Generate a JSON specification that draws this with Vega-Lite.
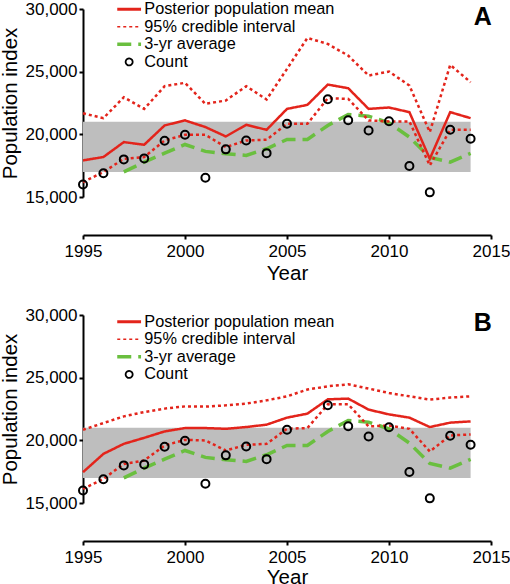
{
  "$schema": "https://vega.github.io/schema/vega-lite/v6.json",
  "padding": {"left": 0, "top": 0, "right": 0, "bottom": 0},
  "spacing": 22,
  "config": {
    "font": "Liberation Sans",
    "view": {"stroke": null},
    "axis": {"grid": false, "labelFlush": false, "domainColor": "#000", "domainWidth": 2, "tickColor": "#000", "tickWidth": 2, "tickSize": 4, "labelFontSize": 17, "labelColor": "#000", "titleFontSize": 20.5, "titleFontWeight": "normal", "titleColor": "#000", "labelFont": "Liberation Sans", "titleFont": "Liberation Sans"},
    "legend": {"orient": "none", "legendX": 38, "labelFontSize": 16.3, "labelFont": "Liberation Sans", "labelColor": "#000", "labelLimit": 400, "symbolSize": 49, "labelOffset": 7, "rowPadding": 0.6},
    "title": {"anchor": "end", "fontSize": 25, "fontWeight": "bold", "color": "#000", "font": "Liberation Sans", "offset": -30, "dx": -18, "baseline": "alphabetic"}
  },
  "datasets": {
    "band": [{"x0": 1995, "x1": 2014, "lo": 17000, "hi": 21000}],
    "a": [
      {"year": 1995, "mean": 17920, "lo": 16190, "hi": 21680, "count": 16000},
      {"year": 1996, "mean": 18190, "lo": 16990, "hi": 21290, "count": 16900},
      {"year": 1997, "mean": 19380, "lo": 18050, "hi": 22960, "avg": 17000, "count": 18000},
      {"year": 1998, "mean": 19170, "lo": 18190, "hi": 22030, "avg": 17790, "count": 18080},
      {"year": 1999, "mean": 20710, "lo": 19510, "hi": 23840, "avg": 18500, "count": 19490},
      {"year": 2000, "mean": 21110, "lo": 19960, "hi": 24110, "avg": 19190, "count": 19960},
      {"year": 2001, "mean": 20580, "lo": 19960, "hi": 22430, "avg": 18640, "count": 16540},
      {"year": 2002, "mean": 19830, "lo": 18980, "hi": 22700, "avg": 18450, "count": 18800},
      {"year": 2003, "mean": 20760, "lo": 19510, "hi": 23840, "avg": 18320, "count": 19510},
      {"year": 2004, "mean": 20360, "lo": 19570, "hi": 22780, "avg": 18850, "count": 18500},
      {"year": 2005, "mean": 22030, "lo": 20840, "hi": 25220, "avg": 19590, "count": 20840},
      {"year": 2006, "mean": 22350, "lo": 20840, "hi": 27690, "avg": 19590},
      {"year": 2007, "mean": 23970, "lo": 22880, "hi": 27210, "avg": 20710, "count": 22800},
      {"year": 2008, "mean": 23680, "lo": 22830, "hi": 26280, "avg": 21580, "count": 21130},
      {"year": 2009, "mean": 22030, "lo": 21110, "hi": 24690, "avg": 21450, "count": 20310},
      {"year": 2010, "mean": 22140, "lo": 21030, "hi": 25010, "avg": 20920, "count": 21050},
      {"year": 2011, "mean": 21770, "lo": 21030, "hi": 23890, "avg": 19780, "count": 17470},
      {"year": 2012, "mean": 18050, "lo": 17520, "hi": 20180, "avg": 18150, "count": 15370},
      {"year": 2013, "mean": 21770, "lo": 20360, "hi": 25540, "avg": 17780, "count": 20360},
      {"year": 2014, "mean": 21290, "lo": 20360, "hi": 24160, "avg": 18480, "count": 19650}
    ],
    "b": [
      {"year": 1995, "mean": 17460, "lo": 16120, "hi": 20840, "count": 16000},
      {"year": 1996, "mean": 18920, "lo": 16920, "hi": 21380, "count": 16900},
      {"year": 1997, "mean": 19720, "lo": 18120, "hi": 21910, "avg": 17000, "count": 18000},
      {"year": 1998, "mean": 20200, "lo": 18390, "hi": 22260, "avg": 17790, "count": 18080},
      {"year": 1999, "mean": 20710, "lo": 19590, "hi": 22530, "avg": 18500, "count": 19490},
      {"year": 2000, "mean": 20980, "lo": 20040, "hi": 22710, "avg": 19190, "count": 19960},
      {"year": 2001, "mean": 20980, "lo": 19990, "hi": 22690, "avg": 18640, "count": 16540},
      {"year": 2002, "mean": 20920, "lo": 19190, "hi": 22790, "avg": 18450, "count": 18800},
      {"year": 2003, "mean": 21060, "lo": 19640, "hi": 22930, "avg": 18320, "count": 19510},
      {"year": 2004, "mean": 21250, "lo": 19720, "hi": 23190, "avg": 18850, "count": 18500},
      {"year": 2005, "mean": 21810, "lo": 20920, "hi": 23510, "avg": 19590, "count": 20840},
      {"year": 2006, "mean": 22130, "lo": 20980, "hi": 24050, "avg": 19590},
      {"year": 2007, "mean": 23270, "lo": 22870, "hi": 24310, "avg": 20710, "count": 22800},
      {"year": 2008, "mean": 23330, "lo": 22870, "hi": 24470, "avg": 21580, "count": 21130},
      {"year": 2009, "mean": 22450, "lo": 21110, "hi": 24130, "avg": 21450, "count": 20310},
      {"year": 2010, "mean": 22070, "lo": 21190, "hi": 23780, "avg": 20920, "count": 21050},
      {"year": 2011, "mean": 21810, "lo": 20920, "hi": 23510, "avg": 19780, "count": 17470},
      {"year": 2012, "mean": 21060, "lo": 19110, "hi": 23250, "avg": 18150, "count": 15370},
      {"year": 2013, "mean": 21410, "lo": 20390, "hi": 23410, "avg": 17780, "count": 20360},
      {"year": 2014, "mean": 21510, "lo": 20470, "hi": 23510, "avg": 18480, "count": 19650}
    ]
  },
  "resolve": {"scale": {"color": "independent", "strokeDash": "independent", "strokeWidth": "independent"}},
  "vconcat": [
    {
      "width": 408, "height": 188,
      "title": "A",
      "layer": [
        {"data": {"name": "band"}, "mark": {"type": "rect", "color": "#bebebe"},
         "encoding": {
           "x": {"field": "x0", "type": "quantitative", "title": "Year", "scale": {"domain": [1995, 2015], "nice": false, "zero": false}, "axis": {"values": [1995, 2000, 2005, 2010, 2015], "format": "d", "offset": 38, "labelPadding": 4, "titlePadding": 4}},
           "x2": {"field": "x1"},
           "y": {"field": "lo", "type": "quantitative", "title": "Population index", "scale": {"domain": [15000, 30000], "nice": false, "zero": false}, "axis": {"values": [15000, 20000, 25000, 30000], "format": ",.0f", "labelPadding": 2, "titlePadding": 5}},
           "y2": {"field": "hi"}}},
        {"data": {"name": "a"}, "mark": {"type": "line"},
         "encoding": {
           "x": {"field": "year", "type": "quantitative", "title": "Year"},
           "y": {"field": "avg", "type": "quantitative", "title": "Population index"},
           "color": {"datum": "3-yr average", "type": "nominal", "scale": {"domain": ["Posterior population mean", "95% credible interval", "3-yr average", "Count"], "range": ["#e3241b", "#e3241b", "#6abf3f", "#000000"]},
             "legend": {"title": null, "legendY": -8, "encode": {"symbols": {"update": {
               "shape": {"signal": "datum.value === 'Count' ? 'circle' : 'M-3.4,0H3.4'"},
               "strokeDash": {"signal": "datum.value === '95% credible interval' ? [3,3] : datum.value === '3-yr average' ? [9,5] : [1,0]"},
               "strokeWidth": {"signal": "datum.value === 'Posterior population mean' ? 3 : datum.value === '95% credible interval' ? 1.6 : datum.value === '3-yr average' ? 3.5 : 1.8"},
               "fill": {"value": "transparent"},
               "size": {"value": 49}}}}}},
           "strokeDash": {"datum": "3-yr average", "type": "nominal", "scale": {"domain": ["Posterior population mean", "95% credible interval", "3-yr average", "Count"], "range": [[1, 0], [3, 3], [14, 7], [1, 0]]}, "legend": null},
           "strokeWidth": {"datum": "3-yr average", "type": "nominal", "scale": {"type": "ordinal", "domain": ["Posterior population mean", "95% credible interval", "3-yr average", "Count"], "range": [3, 1.6, 3.5, 1.8]}, "legend": null}}},
        {"data": {"name": "a"}, "mark": {"type": "line"},
         "encoding": {
           "x": {"field": "year", "type": "quantitative", "title": "Year"},
           "y": {"field": "lo", "type": "quantitative", "title": "Population index"},
           "color": {"datum": "95% credible interval", "type": "nominal"},
           "strokeDash": {"datum": "95% credible interval", "type": "nominal", "legend": null},
           "strokeWidth": {"datum": "95% credible interval", "type": "nominal", "legend": null}}},
        {"data": {"name": "a"}, "mark": {"type": "line"},
         "encoding": {
           "x": {"field": "year", "type": "quantitative", "title": "Year"},
           "y": {"field": "hi", "type": "quantitative", "title": "Population index"},
           "color": {"datum": "95% credible interval", "type": "nominal"},
           "strokeDash": {"datum": "95% credible interval", "type": "nominal", "legend": null},
           "strokeWidth": {"datum": "95% credible interval", "type": "nominal", "legend": null}}},
        {"data": {"name": "a"}, "mark": {"type": "line"},
         "encoding": {
           "x": {"field": "year", "type": "quantitative", "title": "Year"},
           "y": {"field": "mean", "type": "quantitative", "title": "Population index"},
           "color": {"datum": "Posterior population mean", "type": "nominal"},
           "strokeDash": {"datum": "Posterior population mean", "type": "nominal", "legend": null},
           "strokeWidth": {"datum": "Posterior population mean", "type": "nominal", "legend": null}}},
        {"data": {"name": "a"}, "mark": {"type": "point", "shape": "circle", "filled": false, "size": 64, "strokeWidth": 2, "opacity": 1},
         "encoding": {
           "x": {"field": "year", "type": "quantitative", "title": "Year"},
           "y": {"field": "count", "type": "quantitative", "title": "Population index"},
           "color": {"datum": "Count", "type": "nominal"}}}
      ]
    },
    {
      "width": 408, "height": 188,
      "title": "B",
      "layer": [
        {"data": {"name": "band"}, "mark": {"type": "rect", "color": "#bebebe"},
         "encoding": {
           "x": {"field": "x0", "type": "quantitative", "title": "Year", "scale": {"domain": [1995, 2015], "nice": false, "zero": false}, "axis": {"values": [1995, 2000, 2005, 2010, 2015], "format": "d", "offset": 38, "labelPadding": 4, "titlePadding": 2}},
           "x2": {"field": "x1"},
           "y": {"field": "lo", "type": "quantitative", "title": "Population index", "scale": {"domain": [15000, 30000], "nice": false, "zero": false}, "axis": {"values": [15000, 20000, 25000, 30000], "format": ",.0f", "labelPadding": 2, "titlePadding": 5}},
           "y2": {"field": "hi"}}},
        {"data": {"name": "b"}, "mark": {"type": "line"},
         "encoding": {
           "x": {"field": "year", "type": "quantitative", "title": "Year"},
           "y": {"field": "avg", "type": "quantitative", "title": "Population index"},
           "color": {"datum": "3-yr average", "type": "nominal", "scale": {"domain": ["Posterior population mean", "95% credible interval", "3-yr average", "Count"], "range": ["#e3241b", "#e3241b", "#6abf3f", "#000000"]},
             "legend": {"title": null, "legendY": -1.5, "encode": {"symbols": {"update": {
               "shape": {"signal": "datum.value === 'Count' ? 'circle' : 'M-3.4,0H3.4'"},
               "strokeDash": {"signal": "datum.value === '95% credible interval' ? [3,3] : datum.value === '3-yr average' ? [9,5] : [1,0]"},
               "strokeWidth": {"signal": "datum.value === 'Posterior population mean' ? 3 : datum.value === '95% credible interval' ? 1.6 : datum.value === '3-yr average' ? 3.5 : 1.8"},
               "fill": {"value": "transparent"},
               "size": {"value": 49}}}}}},
           "strokeDash": {"datum": "3-yr average", "type": "nominal", "scale": {"domain": ["Posterior population mean", "95% credible interval", "3-yr average", "Count"], "range": [[1, 0], [3, 3], [14, 7], [1, 0]]}, "legend": null},
           "strokeWidth": {"datum": "3-yr average", "type": "nominal", "scale": {"type": "ordinal", "domain": ["Posterior population mean", "95% credible interval", "3-yr average", "Count"], "range": [3, 1.6, 3.5, 1.8]}, "legend": null}}},
        {"data": {"name": "b"}, "mark": {"type": "line"},
         "encoding": {
           "x": {"field": "year", "type": "quantitative", "title": "Year"},
           "y": {"field": "lo", "type": "quantitative", "title": "Population index"},
           "color": {"datum": "95% credible interval", "type": "nominal"},
           "strokeDash": {"datum": "95% credible interval", "type": "nominal", "legend": null},
           "strokeWidth": {"datum": "95% credible interval", "type": "nominal", "legend": null}}},
        {"data": {"name": "b"}, "mark": {"type": "line"},
         "encoding": {
           "x": {"field": "year", "type": "quantitative", "title": "Year"},
           "y": {"field": "hi", "type": "quantitative", "title": "Population index"},
           "color": {"datum": "95% credible interval", "type": "nominal"},
           "strokeDash": {"datum": "95% credible interval", "type": "nominal", "legend": null},
           "strokeWidth": {"datum": "95% credible interval", "type": "nominal", "legend": null}}},
        {"data": {"name": "b"}, "mark": {"type": "line"},
         "encoding": {
           "x": {"field": "year", "type": "quantitative", "title": "Year"},
           "y": {"field": "mean", "type": "quantitative", "title": "Population index"},
           "color": {"datum": "Posterior population mean", "type": "nominal"},
           "strokeDash": {"datum": "Posterior population mean", "type": "nominal", "legend": null},
           "strokeWidth": {"datum": "Posterior population mean", "type": "nominal", "legend": null}}},
        {"data": {"name": "b"}, "mark": {"type": "point", "shape": "circle", "filled": false, "size": 64, "strokeWidth": 2, "opacity": 1},
         "encoding": {
           "x": {"field": "year", "type": "quantitative", "title": "Year"},
           "y": {"field": "count", "type": "quantitative", "title": "Population index"},
           "color": {"datum": "Count", "type": "nominal"}}}
      ]
    }
  ]
}
